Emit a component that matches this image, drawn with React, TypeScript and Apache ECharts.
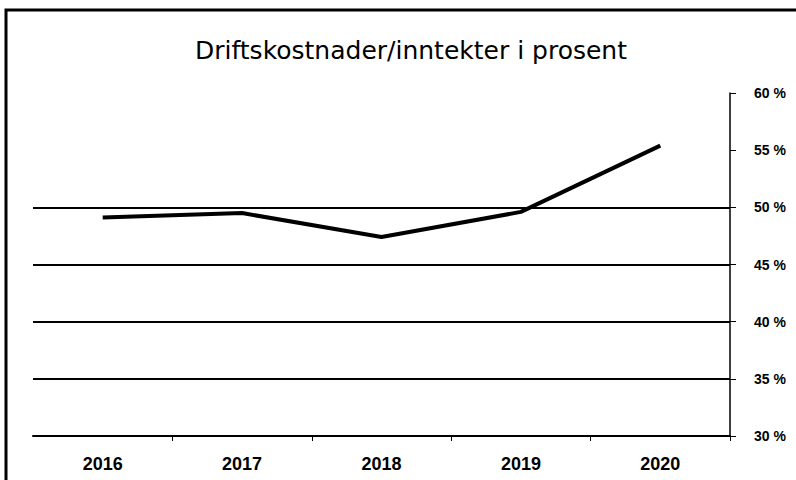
import React, { useEffect, useRef } from "react";
import * as echarts from "echarts";

const title = "Driftskostnader/inntekter i prosent";
const years = ["2016", "2017", "2018", "2019", "2020"];
const ratio = [49.1, 49.5, 47.4, 49.6, 55.4];
const gridValues = [35, 40, 45, 50];
const yMin = 30;
const yMax = 60;
const yStep = 5;

export default function App() {
  const ref = useRef<HTMLDivElement>(null);
  useEffect(() => {
    if (!ref.current) return;
    const chart = echarts.init(ref.current, undefined, { renderer: "svg" });
    const font = "Liberation Sans";
    chart.setOption({
      animation: false,
      backgroundColor: "#ffffff",
      title: {
        text: title,
        left: 406,
        top: 33,
        textAlign: "center",
        textStyle: { fontFamily: "DejaVu Sans", fontSize: 25, fontWeight: "normal", color: "#000" },
      },
      graphic: [
        {
          type: "rect",
          shape: { x: 6, y: 10, width: 800, height: 480 },
          style: { fill: "none", stroke: "#000", lineWidth: 3 },
          silent: true,
        },
      ],
      grid: { left: 33, right: 66, top: 93, bottom: 44 },
      xAxis: {
        type: "category",
        data: years,
        boundaryGap: true,
        axisLine: { show: true, lineStyle: { color: "#000", width: 2 } },
        axisTick: {
          show: true,
          length: 5,
          interval: (i: number) => i !== 0,
          lineStyle: { color: "#000", width: 1 },
        },
        axisLabel: { margin: 19, color: "#000", fontFamily: font, fontSize: 18, fontWeight: "bold" },
        splitLine: { show: false },
      },
      yAxis: {
        type: "value",
        position: "right",
        min: yMin,
        max: yMax,
        interval: yStep,
        axisLine: { show: true, lineStyle: { color: "#000", width: 1.5 } },
        axisTick: { show: true, length: 6, lineStyle: { color: "#000", width: 1 } },
        axisLabel: {
          margin: 24,
          color: "#000",
          fontFamily: font,
          fontSize: 14,
          fontWeight: "bold",
          formatter: "{value} %",
        },
        splitLine: { show: false },
      },
      series: [
        {
          type: "line",
          data: ratio,
          showSymbol: false,
          symbol: "none",
          lineStyle: { color: "#000", width: 4 },
          markLine: {
            silent: true,
            symbol: "none",
            label: { show: false },
            lineStyle: { color: "#000", width: 2, type: "solid" },
            data: gridValues.map((v) => ({ yAxis: v })),
          },
        },
      ],
    });
    return () => chart.dispose();
  }, []);
  return (
    <div
      ref={ref}
      style={{ position: "fixed", left: 0, top: 0, width: 796, height: 480, background: "#fff" }}
    />
  );
}
